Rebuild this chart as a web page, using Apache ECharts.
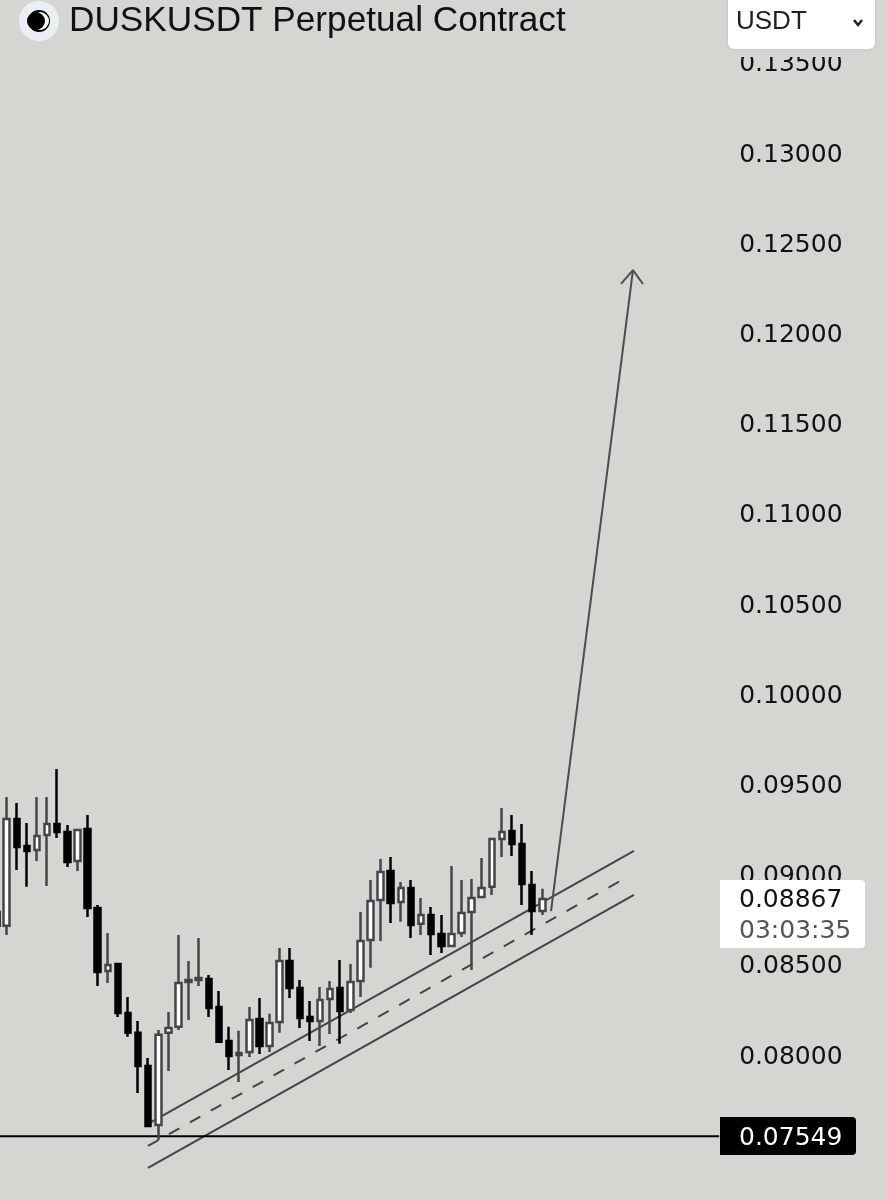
<!DOCTYPE html>
<html>
<head>
<meta charset="utf-8">
<style>
  html, body { margin: 0; padding: 0; background: #d5d6d1; }
  #chart { width: 885px; height: 1200px; }
</style>
<script src="https://cdn.jsdelivr.net/npm/echarts@6/dist/echarts.min.js"></script>
</head>
<body>
<div id="chart"></div>
<script>
// candle values, oldest first
const opens = [0.08793, 0.08716, 0.09308, 0.09159, 0.09137, 0.09220, 0.09281, 0.09236, 0.09076, 0.09253, 0.08815,
  0.08466, 0.08505, 0.08233, 0.08123, 0.07939, 0.07612, 0.08123, 0.08156, 0.08405, 0.08416, 0.08421, 0.08266,
  0.08078, 0.08000, 0.08017, 0.08200, 0.08050, 0.08183, 0.08521, 0.08372, 0.08211, 0.08189, 0.08310, 0.08372,
  0.08250, 0.08410, 0.08638, 0.08859, 0.09020, 0.08848, 0.08926, 0.08727, 0.08776, 0.08671, 0.08604, 0.08676,
  0.08793, 0.08876, 0.08932, 0.09198, 0.09242, 0.09170, 0.08943, 0.08798];
const closes = [0.08716, 0.09308, 0.09153, 0.09131, 0.09214, 0.09281, 0.09236, 0.09070, 0.09247, 0.08815, 0.08460,
  0.08499, 0.08233, 0.08123, 0.07939, 0.07606, 0.08112, 0.08150, 0.08399, 0.08416, 0.08427, 0.08261, 0.08073,
  0.07995, 0.08011, 0.08194, 0.08050, 0.08178, 0.08521, 0.08372, 0.08205, 0.08189, 0.08305, 0.08366, 0.08244,
  0.08405, 0.08632, 0.08854, 0.09015, 0.08843, 0.08926, 0.08721, 0.08776, 0.08671, 0.08604, 0.08671, 0.08787,
  0.08870, 0.08926, 0.09198, 0.09236, 0.09170, 0.08948, 0.08798, 0.08865];
const lows = [0.08693, 0.08665, 0.09026, 0.08932, 0.09076, 0.08937, 0.09203, 0.09042, 0.09020, 0.08765, 0.08383,
  0.08399, 0.08211, 0.08101, 0.07790, 0.07606, 0.07529, 0.07911, 0.08139, 0.08194, 0.08383, 0.08211, 0.08073,
  0.07917, 0.07850, 0.07989, 0.08006, 0.08017, 0.08123, 0.08316, 0.08150, 0.08078, 0.08050, 0.08117, 0.08062,
  0.08233, 0.08322, 0.08483, 0.08632, 0.08732, 0.08738, 0.08649, 0.08665, 0.08555, 0.08566, 0.08599, 0.08654,
  0.08471, 0.08876, 0.08887, 0.09098, 0.09103, 0.08832, 0.08665, 0.08776];
const highs = [0.08832, 0.09430, 0.09397, 0.09286, 0.09430, 0.09430, 0.09586, 0.09275, 0.09247, 0.09331, 0.08832,
  0.08676, 0.08510, 0.08322, 0.08189, 0.07984, 0.08139, 0.08239, 0.08665, 0.08521, 0.08649, 0.08444, 0.08355,
  0.08156, 0.08134, 0.08266, 0.08316, 0.08228, 0.08593, 0.08593, 0.08416, 0.08300, 0.08377, 0.08410, 0.08527,
  0.08505, 0.08793, 0.08970, 0.09087, 0.09098, 0.08959, 0.08970, 0.08870, 0.08820, 0.08776, 0.09048, 0.08970,
  0.08976, 0.09092, 0.09198, 0.09369, 0.09331, 0.09281, 0.09020, 0.08921];

// drawn lines as [candle slot, price]
const channelTop = [[14.98, 0.07618], [63.07, 0.09131]];
const channelMid = [[14.98, 0.07496], [62.08, 0.08976]];
const channelLow = [[14.98, 0.07374], [63.07, 0.08887]];
const arrowShaft = [[54.86, 0.08798], [62.97, 0.12351]];
const arrowHead = [[61.79, 0.12274], [62.97, 0.12351], [63.96, 0.12274]];

const supportPrice = 0.07549;
const lastPrice = '0.08867';
const countdown = '03:03:35';
const titleText = 'DUSKUSDT Perpetual Contract';
const unitText = 'USDT';

const slotCount = 72; // empty slots keep the right side of the plot free
const slots = Array.from({ length: slotCount }, (_, i) => String(i));
const candles = opens.map((o, i) => [o, closes[i], lows[i], highs[i]]);

const bg = '#d5d6d1';
const labelFont = '"DejaVu Sans", sans-serif';

function drawnLine(data, color, dashed) {
  return {
    type: 'line',
    xAxisIndex: 1,
    yAxisIndex: 0,
    data: data,
    symbol: 'none',
    silent: true,
    z: 3,
    lineStyle: { color: color, width: 2, type: dashed ? [12, 12] : 'solid' }
  };
}

const chart = echarts.init(document.getElementById('chart'));
chart.setOption({
  animation: false,
  backgroundColor: bg,
  grid: { left: -8.45, top: -27.4, width: 727.63, height: 1262.8, outerBoundsMode: 'none' },
  xAxis: [
    { type: 'category', data: slots, show: false },
    { type: 'value', min: -0.5, max: slotCount - 0.5, show: false }
  ],
  yAxis: {
    type: 'value',
    position: 'right',
    min: 0.07,
    max: 0.14,
    interval: 0.005,
    axisLine: { show: false },
    axisTick: { show: false },
    splitLine: { show: false },
    axisLabel: {
      margin: 20,
      formatter: (v) => '{tick|' + v.toFixed(5) + '}',
      rich: {
        // top padding nudges the text down to the reference baseline
        tick: { color: '#111', fontSize: 25, fontFamily: labelFont, padding: [4, 0, 0, 0] }
      }
    }
  },
  series: [
    {
      type: 'candlestick',
      data: candles,
      barWidth: 6,
      z: 4,
      itemStyle: {
        color: '#fff',
        color0: '#000',
        borderColor: '#44444c',
        borderColor0: '#000',
        borderWidth: 2.5
      }
    },
    drawnLine(channelTop, '#444'),
    drawnLine(channelMid, '#444', true),
    drawnLine(channelLow, '#444'),
    drawnLine(arrowShaft, '#4d4d4d'),
    drawnLine(arrowHead, '#4d4d4d'),
    drawnLine([[-0.5, supportPrice], [slotCount - 0.5, supportPrice]], '#000')
  ],
  graphic: [
    // header band hides the top tick label partly
    { type: 'rect', z: 100, shape: { x: 0, y: 0, width: 885, height: 57 }, style: { fill: bg } },
    { type: 'circle', z: 101, shape: { cx: 39, cy: 21, r: 20 }, style: { fill: '#eceef5' } },
    { type: 'circle', z: 102, shape: { cx: 39, cy: 21, r: 11 }, style: { fill: '#000' } },
    { type: 'circle', z: 103, shape: { cx: 40, cy: 21, r: 9 }, style: { fill: '#fff' } },
    { type: 'circle', z: 104, shape: { cx: 36, cy: 21, r: 9 }, style: { fill: '#000' } },
    { type: 'text', z: 101, x: 69, y: 4, style: { text: titleText, fill: '#111', font: '35.2px "Liberation Sans", sans-serif' } },

    { type: 'rect', z: 101, shape: { x: 728, y: -6, width: 147, height: 55, r: 6 }, style: { fill: '#fff', shadowBlur: 3, shadowColor: 'rgba(0,0,0,0.12)' } },
    { type: 'text', z: 102, x: 736, y: 9, style: { text: unitText, fill: '#222', font: '26px "Liberation Sans", sans-serif' } },
    { type: 'polyline', z: 102, shape: { points: [[854, 20], [858, 25], [862, 20]] }, style: { stroke: '#222', lineWidth: 2.5, fill: null } },

    { type: 'rect', z: 101, shape: { x: 720, y: 880, width: 145, height: 68, r: [0, 4, 4, 0] }, style: { fill: '#fff' } },
    { type: 'text', z: 102, x: 739, y: 888, style: { text: lastPrice, fill: '#111', font: '25px ' + labelFont } },
    { type: 'text', z: 102, x: 739, y: 919, style: { text: countdown, fill: '#555', font: '25px ' + labelFont } },

    { type: 'rect', z: 101, shape: { x: 720, y: 1117, width: 136, height: 38, r: [0, 4, 4, 0] }, style: { fill: '#000' } },
    { type: 'text', z: 102, x: 739, y: 1126, style: { text: supportPrice.toFixed(5), fill: '#fff', font: '25px ' + labelFont } }
  ]
});
</script>
</body>
</html>
